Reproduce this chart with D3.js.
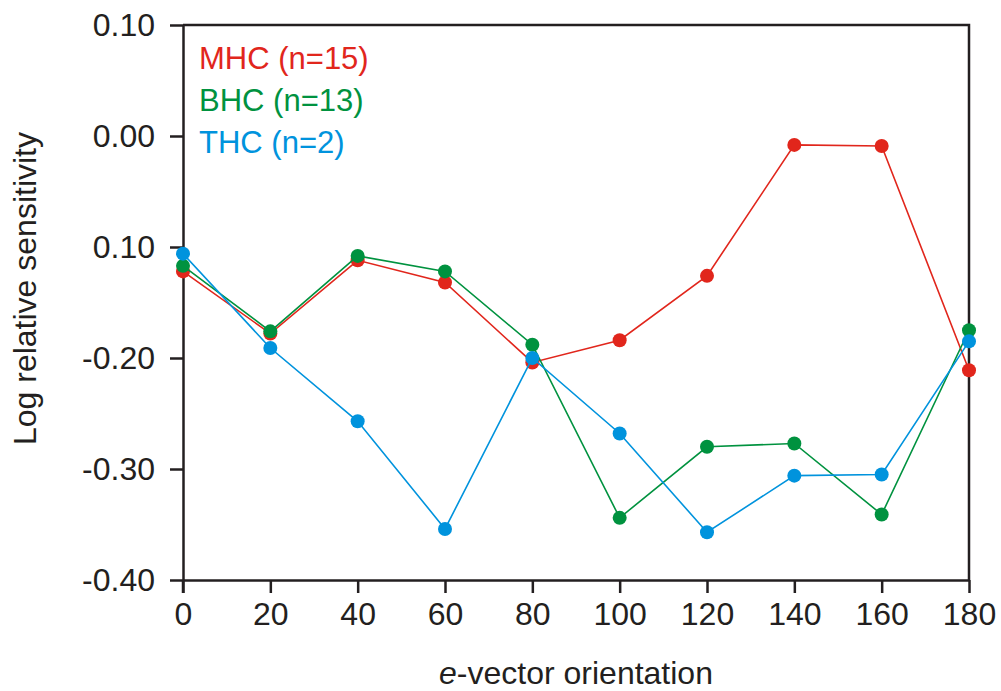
<!DOCTYPE html>
<html>
<head>
<meta charset="utf-8">
<script src="https://cdn.jsdelivr.net/npm/d3@7"></script>
<style>
    body { margin: 0; background: white; }
    text { font-family: "Liberation Sans", Arial, sans-serif; fill: #231f20; }
</style>
</head>
<body>
<svg id="chart" width="1001" height="691"></svg>
<script>
// data
const angles = [0, 20, 40, 60, 80, 100, 120, 140, 160, 180];
const mhc = [-0.122, -0.178, -0.112, -0.132, -0.204, -0.184, -0.126, -0.008, -0.009, -0.211];
const bhc = [-0.117, -0.176, -0.108, -0.122, -0.188, -0.344, -0.280, -0.277, -0.341, -0.175];
const thc = [-0.106, -0.191, -0.257, -0.354, -0.200, -0.268, -0.357, -0.306, -0.305, -0.185];
const y_ticks = [-0.4, -0.3, -0.2, -0.1, 0.0, 0.1];
const y_tick_labels = ['-0.40', '-0.30', '-0.20', '0.10', '0.00', '0.10'];
const series_names = ['MHC (n=15)', 'BHC (n=13)', 'THC (n=2)'];

const colours = ['#e1261c', '#00923f', '#0093dd'];
const series = [mhc, bhc, thc];

const margin = {top: 25, left: 183, right: 32, bottom: 111};
const width = 1001, height = 691;
const axis_colour = '#231f20';
const font = '"Liberation Sans", Arial, sans-serif';

const svg = d3.select('#chart');

const x = d3.scaleLinear().domain([0, 180]).range([margin.left, width - margin.right]);
const y = d3.scaleLinear().domain([-0.4, 0.1]).range([height - margin.bottom, margin.top]);

// frame: top and right edges
svg.append('path')
    .attr('d', `M${x(0)},${y(0.1)}H${x(180)}V${y(-0.4)}`)
    .attr('fill', 'none')
    .attr('stroke', axis_colour)
    .attr('stroke-width', 2.5);

const x_axis = d3.axisBottom(x)
    .tickValues(angles)
    .tickFormat(d3.format('d'))
    .tickSizeInner(13)
    .tickSizeOuter(0)
    .tickPadding(9);

const y_axis = d3.axisLeft(y)
    .tickValues(y_ticks)
    .tickFormat((d, i) => y_tick_labels[i])
    .tickSizeInner(13)
    .tickSizeOuter(0)
    .tickPadding(15);

const gx = svg.append('g').attr('transform', `translate(0,${y(-0.4)})`).call(x_axis);
const gy = svg.append('g').attr('transform', `translate(${x(0)},0)`).call(y_axis);

[gx, gy].forEach(g => {
    g.select('.domain').attr('stroke', axis_colour).attr('stroke-width', 2.5);
    g.selectAll('.tick line').attr('stroke', axis_colour).attr('stroke-width', 2.5);
    g.selectAll('.tick text').attr('font-size', 32).attr('fill', axis_colour)
        .attr('font-family', font);
});

// left axis runs a little past the x axis, as in the original
gy.append('line')
    .attr('x1', 0).attr('x2', 0)
    .attr('y1', y(-0.4)).attr('y2', y(-0.4) + 13)
    .attr('stroke', axis_colour).attr('stroke-width', 2.5);

// axis titles
svg.append('text')
    .attr('x', (x(0) + x(180)) / 2)
    .attr('y', 684)
    .attr('text-anchor', 'middle')
    .attr('font-size', 32)
    .html('<tspan font-style="italic">e</tspan>-vector orientation');

svg.append('text')
    .attr('transform', `translate(36,${(y(-0.4) + y(0.1)) / 2 - 14}) rotate(-90)`)
    .attr('text-anchor', 'middle')
    .attr('font-size', 32)
    .text('Log relative sensitivity');

// lines + markers
const line = d3.line().x((d, i) => x(angles[i])).y(d => y(d));

series.forEach((vals, k) => {
    const g = svg.append('g');
    g.append('path')
        .datum(vals)
        .attr('d', line)
        .attr('fill', 'none')
        .attr('stroke', colours[k])
        .attr('stroke-width', 1.6);
    g.selectAll('circle')
        .data(vals)
        .join('circle')
        .attr('cx', (d, i) => x(angles[i]))
        .attr('cy', d => y(d))
        .attr('r', 7)
        .attr('fill', colours[k]);
});

// legend
series_names.forEach((name, k) => {
    svg.append('text')
        .attr('x', 199)
        .attr('y', 69 + k * 42)
        .attr('font-size', 31)
        .style('fill', colours[k])
        .text(name);
});
</script>
</body>
</html>
